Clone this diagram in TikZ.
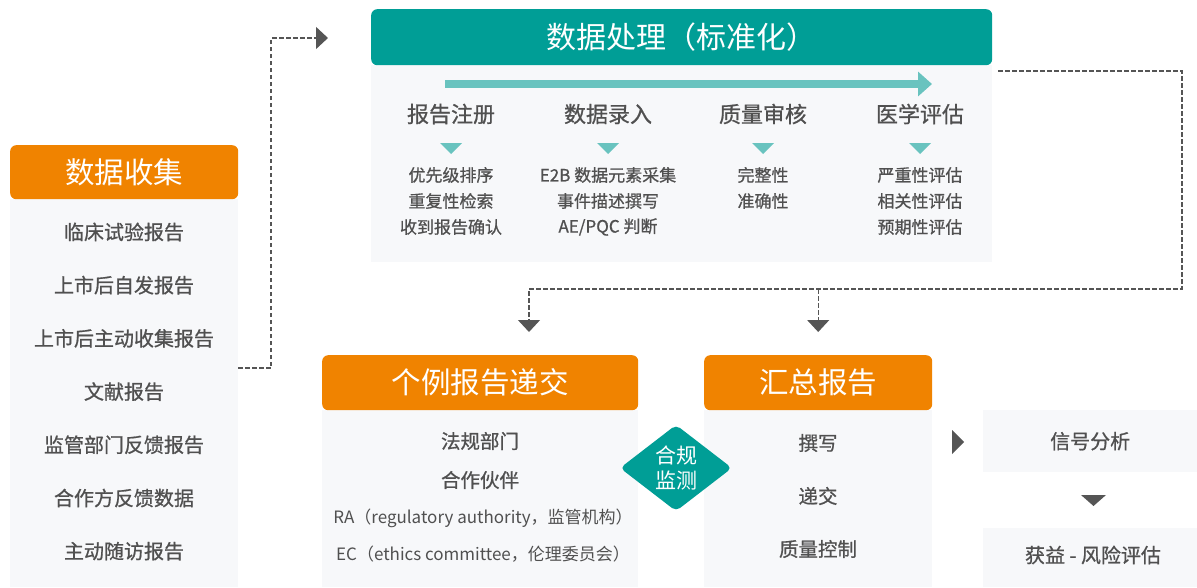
\documentclass[tikz,border=0pt]{standalone}
\usepackage{fontspec}
\setmainfont{Noto Sans CJK SC}
\newfontfamily\medfont{Noto Sans CJK SC}[FakeBold=0.8]
\usetikzlibrary{arrows.meta,shapes.geometric}
\definecolor{hdorange}{HTML}{F08300}
\definecolor{hdteal}{HTML}{009E96}
\definecolor{lightteal}{HTML}{69C3BF}
\definecolor{bodygray}{HTML}{F7F8FA}
\definecolor{txtgray}{HTML}{505050}
\definecolor{tipgray}{HTML}{555555}
\tikzset{
	header/.style={rounded corners=6pt, text=white, inner sep=0pt, anchor=north west,
		font=\fontsize{29.5}{32}\selectfont},
	bodybox/.style={fill=bodygray, inner sep=0pt, anchor=north west},
	itemtxt/.style={text=txtgray, inner sep=0pt, font=\medfont\fontsize{20}{22}\selectfont},
	smalltxt/.style={text=txtgray, inner sep=0pt, font=\medfont\fontsize{17}{20}\selectfont},
	latintxt/.style={text=txtgray, inner sep=0pt, font=\fontsize{17}{20}\selectfont},
	dashline/.style={draw=tipgray, dash pattern=on 4.5pt off 2.5pt, line width=1.2pt,
		-{Triangle[width=22pt,length=12pt,fill=tipgray]}},
}

\begin{document}
\begin{tikzpicture}[x=1pt,y=-1pt]
			%%%%% START %%%%%
			\useasboundingbox (0,0) rectangle (1197,587);
			
			% data collection
			\node[bodybox, minimum width=228pt, minimum height=388pt] (collectbody) at (10,199) {};
			\node[header, fill=hdorange, minimum width=228pt, minimum height=54pt] (collecthd) at (10,145) {数据收集};
			\foreach \txt [count=\i] in {临床试验报告,上市后自发报告,上市后主动收集报告,文献报告,监管部门反馈报告,合作方反馈数据,主动随访报告}
				\node[itemtxt] (c\i) at (124, 178.8+53.2*\i) {\txt};
			
			% data processing
			\node[bodybox, minimum width=621pt, minimum height=197pt] (procbody) at (371,65) {};
			\node[header, fill=hdteal, minimum width=621pt, minimum height=56pt, font=\fontsize{30}{32}\selectfont] (prochd) at (371,9) {数据处理（标准化）};
			\draw[lightteal, line width=8pt, -{Triangle[width=24pt,length=14pt]}] (445,84) -- (932,84);
			\foreach \x/\hd/\items in {451/报告注册/{优先级排序,重复性检索,收到报告确认},
					608/数据录入/{E2B 数据元素采集,事件描述撰写,{AE/PQC 判断}},
					763/质量审核/{完整性,准确性},
					920/医学评估/{严重性评估,相关性评估,预期性评估}} {
				\node[itemtxt, font=\medfont\fontsize{22}{24}\selectfont] (p\x) at (\x,114) {\hd};
				\fill[lightteal] (\x-11,143) -- (\x+11,143) -- (\x,154) -- cycle;
				\foreach \it [count=\j] in \items
					\node[smalltxt] (p\x-\j) at (\x,149+26*\j) {\it};
			}
			
			% case report submission
			\node[bodybox, minimum width=316pt, minimum height=177pt] (casebody) at (322,410) {};
			\node[header, fill=hdorange, minimum width=316pt, minimum height=55pt] (casehd) at (322,355) {个例报告递交};
			\node[itemtxt, font=\medfont\fontsize{19.5}{22}\selectfont] (s1) at (480,441) {法规部门};
			\node[itemtxt, font=\medfont\fontsize{19.5}{22}\selectfont] (s2) at (480,480) {合作伙伴};
			\node[latintxt] (s3) at (483,518) {RA（regulatory authority，监管机构）};
			\node[latintxt] (s4) at (483,554) {EC（ethics committee，伦理委员会）};
			
			% aggregate report
			\node[bodybox, minimum width=228pt, minimum height=177pt] (aggbody) at (704,410) {};
			\node[header, fill=hdorange, minimum width=228pt, minimum height=55pt] (agghd) at (704,355) {汇总报告};
			\foreach \txt [count=\i] in {撰写,递交,质量控制}
				\node[itemtxt, font=\medfont\fontsize{19.5}{22}\selectfont] (a\i) at (818, 390+53*\i) {\txt};
			
			% compliance monitoring
			\node[diamond, fill=hdteal, text=white, inner sep=0pt, minimum width=112pt, minimum height=86pt,
				rounded corners=5pt, align=center, font=\fontsize{21}{25}\selectfont] (comply) at (676,468) {合规\\监测};
			
			% signal analysis
			\fill[tipgray] (952,430) -- (964,442) -- (952,454) -- cycle;
			\node[bodybox, minimum width=214pt, minimum height=62pt] (signal) at (983,410) {};
			\node[itemtxt] (signaltxt) at (signal.center) {信号分析};
			\fill[tipgray] (1081,495) -- (1106,495) -- (1093.5,506) -- cycle;
			\node[bodybox, minimum width=214pt, minimum height=59pt] (benefit) at (983,528) {};
			\node[itemtxt] (benefittxt) at (1093,555) {获益 - 风险评估};
			
			% dashed connectors
			\coordinate (collectout) at (238,368);
			\coordinate (procin) at (328,38);
			\draw[dashline] (collectout) -| (271,38) -- (procin);
			\coordinate (procout) at ([xshift=6pt,yshift=-6pt]procbody.north east);
			\coordinate (casein) at (529,332);
			\draw[dashline] (procout) -- (1182,71) |- (529,289) -- (casein);
			\draw[dashline] (agghd.north |- 0,289) -- ([yshift=23pt]agghd.north);
			%%%%% END %%%%%
		\end{tikzpicture}
\end{document}
